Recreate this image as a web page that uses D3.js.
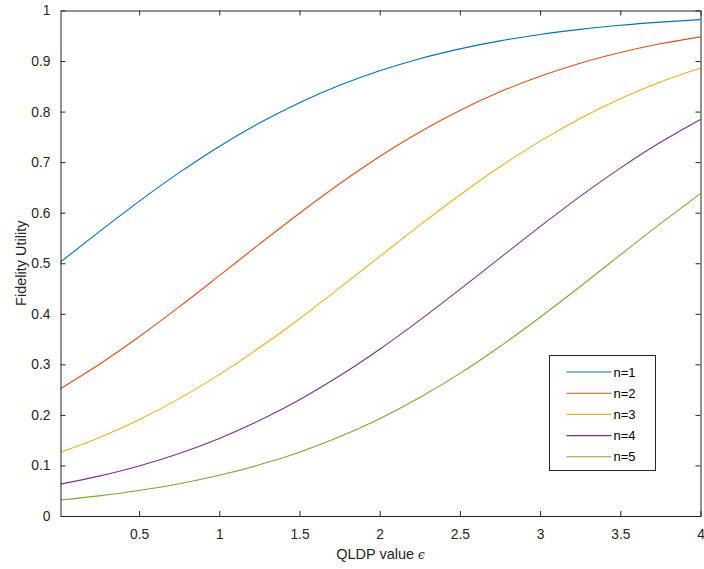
<!DOCTYPE html>
<html>
<head>
<meta charset="utf-8">
<script src="https://cdn.jsdelivr.net/npm/d3@7/dist/d3.min.js"></script>
<style>
  body { margin: 0; background: #fff; }
  svg { display: block; font-family: "Liberation Sans", Arial, sans-serif; }
  .tick text { fill: #262626; font-size: 13.8px; }
</style>
</head>
<body>
<svg id="chart" width="704" height="569"></svg>
<script>
// Data
const epsilon = [0.01, 0.25, 0.5, 0.75, 1, 1.25, 1.5, 1.75, 2, 2.25, 2.5, 2.75, 3, 3.25, 3.5, 3.75, 4];
const n1 = [0.5025, 0.5622, 0.6225, 0.6792, 0.7311, 0.7773, 0.8176, 0.8520, 0.8808, 0.9047, 0.9241, 0.9399, 0.9526, 0.9627, 0.9707, 0.9770, 0.9820];
const n2 = [0.2519, 0.2997, 0.3547, 0.4137, 0.4754, 0.5378, 0.5990, 0.6573, 0.7112, 0.7598, 0.8024, 0.8391, 0.8700, 0.8958, 0.9169, 0.9341, 0.9479];
const n3 = [0.1261, 0.1550, 0.1906, 0.2322, 0.2797, 0.3327, 0.3903, 0.4512, 0.5135, 0.5755, 0.6351, 0.6909, 0.7416, 0.7865, 0.8255, 0.8586, 0.8864];
const n4 = [0.0631, 0.0789, 0.0990, 0.1237, 0.1534, 0.1888, 0.2300, 0.2773, 0.3300, 0.3875, 0.4482, 0.5105, 0.5725, 0.6323, 0.6882, 0.7392, 0.7845];
const n5 = [0.0316, 0.0398, 0.0505, 0.0639, 0.0806, 0.1012, 0.1263, 0.1566, 0.1925, 0.2343, 0.2821, 0.3354, 0.3932, 0.4541, 0.5165, 0.5783, 0.6378];
const seriesNames = ["n=1", "n=2", "n=3", "n=4", "n=5"];
const seriesValues = [n1, n2, n3, n4, n5];
const colors = ["#0072BD", "#D95319", "#EDB120", "#7E2F8E", "#77AC30"];
const xTicks = [0.5, 1, 1.5, 2, 2.5, 3, 3.5, 4];
const yTicks = [0, 0.1, 0.2, 0.3, 0.4, 0.5, 0.6, 0.7, 0.8, 0.9, 1];

const margin = { left: 60.5, top: 10.5, right: 3.5, bottom: 53 };
const width = 704, height = 569;
const axisColor = "#262626";

const svg = d3.select("#chart");

const x = d3.scaleLinear().domain([0.01, 4]).range([margin.left, width - margin.right]);
const y = d3.scaleLinear().domain([0, 1]).range([height - margin.bottom, margin.top]);

// Lines
const line = d3.line()
  .x((d, i) => x(epsilon[i]))
  .y(d => y(d))
  .curve(d3.curveMonotoneX);

svg.append("g")
  .selectAll("path")
  .data(seriesValues)
  .join("path")
  .attr("fill", "none")
  .attr("stroke", (d, i) => colors[i])
  .attr("stroke-width", 1.1)
  .attr("d", line);

// Axes (MATLAB style, inward ticks, box on)
function styleAxis(g) {
  g.select(".domain").attr("stroke", axisColor);
  g.selectAll(".tick line").attr("stroke", axisColor);
}

svg.append("g")
  .attr("transform", `translate(0,${y(0)})`)
  .call(d3.axisBottom(x).tickValues(xTicks).tickFormat(d3.format("")).tickSizeInner(-5).tickSizeOuter(0).tickPadding(13))
  .call(styleAxis);

svg.append("g")
  .attr("transform", `translate(0,${y(1)})`)
  .call(d3.axisTop(x).tickValues(xTicks).tickFormat("").tickSizeInner(-5).tickSizeOuter(0))
  .call(styleAxis);

svg.append("g")
  .attr("transform", `translate(${x.range()[0]},0)`)
  .call(d3.axisLeft(y).tickValues(yTicks).tickFormat(d3.format("")).tickSizeInner(-5).tickSizeOuter(0).tickPadding(10))
  .call(styleAxis);

svg.append("g")
  .attr("transform", `translate(${x.range()[1]},0)`)
  .call(d3.axisRight(y).tickValues(yTicks).tickFormat("").tickSizeInner(-5).tickSizeOuter(0))
  .call(styleAxis);

// Axis labels
svg.append("text")
  .attr("x", (x.range()[0] + x.range()[1]) / 2)
  .attr("y", 559)
  .attr("text-anchor", "middle")
  .attr("fill", axisColor)
  .attr("font-size", 14.5)
  .html('QLDP value <tspan font-family="DejaVu Serif" font-style="italic" font-size="12">ϵ</tspan>');

svg.append("text")
  .attr("transform", `translate(25.5,${(y(0) + y(1)) / 2}) rotate(-90)`)
  .attr("text-anchor", "middle")
  .attr("fill", axisColor)
  .attr("font-size", 14.5)
  .text("Fidelity Utility");

// Legend
const legend = svg.append("g").attr("transform", "translate(549.5,355.5)");
legend.append("rect")
  .attr("width", 106)
  .attr("height", 115)
  .attr("fill", "#fff")
  .attr("stroke", axisColor)
  .attr("stroke-width", 1);

const item = legend.selectAll("g.item")
  .data(seriesNames)
  .join("g")
  .attr("class", "item")
  .attr("transform", (d, i) => `translate(0,${16.5 + i * 21.2})`);

item.append("line")
  .attr("x1", 17).attr("x2", 62)
  .attr("stroke", (d, i) => colors[i])
  .attr("stroke-width", 1.1);

item.append("text")
  .attr("x", 64)
  .attr("dy", "0.35em")
  .attr("fill", "#000")
  .attr("font-size", 13)
  .text(d => d);
</script>
</body>
</html>
